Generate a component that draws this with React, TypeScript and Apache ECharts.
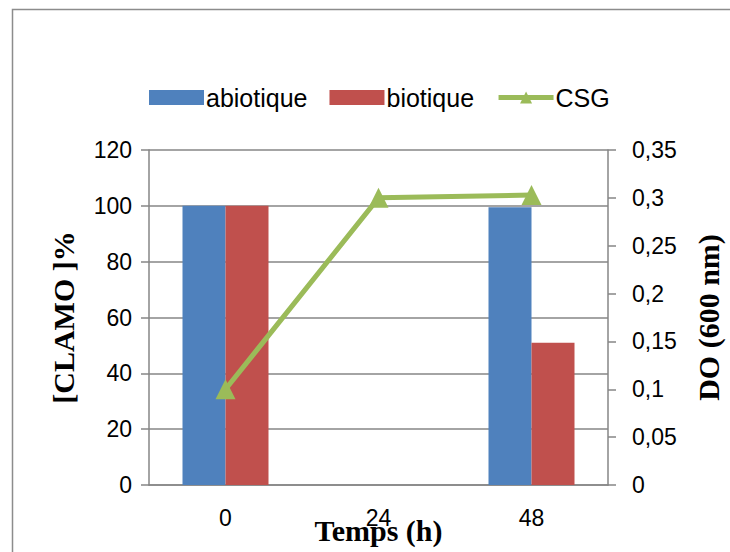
import React, { useEffect, useRef } from "react";
import * as echarts from "echarts";

// Sampling times (h)
const times = ["0", "24", "48"];
// Remaining CLAMO (%)
const abiotique = [100, null, 99.5];
const biotique = [100, null, 51];
// Optical density at 600 nm
const csg = [0.1, 0.3, 0.303];

const sansFont = "'Liberation Sans', Arial, sans-serif";
const serifFont = "'Liberation Serif', 'Times New Roman', serif";
const axisGrey = "#868686";

const nameStyle = {
  fontFamily: serifFont,
  fontWeight: "bold",
  fontSize: 30,
  color: "#000",
};

const tickLabelStyle = {
  fontFamily: sansFont,
  fontSize: 23,
  color: "#000",
};

export default function App() {
  const ref = useRef<HTMLDivElement>(null);

  useEffect(() => {
    if (!ref.current) return;
    const chart = echarts.init(ref.current, null, { renderer: "svg" });
    chart.setOption({
      animation: false,
      backgroundColor: "#ffffff",
      graphic: [
        {
          type: "rect",
          shape: { x: 12.5, y: 9.5, width: 740, height: 560 },
          style: { fill: "none", stroke: "#8c8c8c", lineWidth: 1.5 },
          silent: true,
        },
      ],
      legend: {
        top: 80,
        left: 144,
        itemWidth: 55,
        itemHeight: 15,
        itemGap: 22,
        lineStyle: { width: 5 },
        textStyle: {
          fontFamily: sansFont,
          fontSize: 25,
          color: "#000",
          padding: [0, 0, 0, -3],
        },
        data: [
          { name: "abiotique", icon: "rect" },
          { name: "biotique", icon: "rect" },
          { name: "CSG" },
        ],
      },
      grid: {
        left: 149,
        right: 122,
        top: 150,
        bottom: 67,
        containLabel: false,
        outerBoundsMode: "none",
      },
      xAxis: {
        type: "category",
        data: times,
        name: "Temps (h)",
        nameLocation: "middle",
        nameGap: 30,
        nameMoveOverlap: false,
        nameTextStyle: nameStyle,
        axisLine: { lineStyle: { color: axisGrey, width: 1.5 } },
        axisTick: { length: 8, lineStyle: { color: axisGrey, width: 1.5 } },
        axisLabel: { ...tickLabelStyle, margin: 21 },
      },
      yAxis: [
        {
          type: "value",
          min: 0,
          max: 120,
          interval: 20,
          name: "[CLAMO ]%",
          nameLocation: "middle",
          nameGap: 71,
          nameRotate: 90,
          nameMoveOverlap: false,
          nameTextStyle: nameStyle,
          axisLine: { show: true, lineStyle: { color: axisGrey, width: 1.5 } },
          axisTick: { show: true, length: 8, lineStyle: { color: axisGrey, width: 1.5 } },
          axisLabel: { ...tickLabelStyle, margin: 17 },
          splitLine: { show: true, lineStyle: { color: axisGrey, width: 1.5 } },
        },
        {
          type: "value",
          min: 0,
          max: 0.35,
          interval: 0.05,
          name: "DO (600 nm)",
          nameLocation: "middle",
          nameGap: 85,
          nameRotate: 90,
          nameMoveOverlap: false,
          nameTextStyle: nameStyle,
          axisLine: { show: true, lineStyle: { color: axisGrey, width: 1.5 } },
          axisTick: { show: true, length: 8, lineStyle: { color: axisGrey, width: 1.5 } },
          axisLabel: {
            ...tickLabelStyle,
            margin: 24,
            formatter: (v: number) => String(Math.round(v * 100) / 100).replace(".", ","),
          },
          splitLine: { show: false },
        },
      ],
      series: [
        {
          name: "abiotique",
          type: "bar",
          data: abiotique,
          barWidth: 43,
          barGap: "0%",
          itemStyle: { color: "#4F81BD" },
        },
        {
          name: "biotique",
          type: "bar",
          data: biotique,
          barWidth: 43,
          itemStyle: { color: "#C0504D" },
        },
        {
          name: "CSG",
          type: "line",
          yAxisIndex: 1,
          data: csg,
          symbol: "triangle",
          symbolSize: 20,
          lineStyle: { color: "#9BBB59", width: 5 },
          itemStyle: { color: "#9BBB59" },
        },
      ],
    });
    return () => chart.dispose();
  }, []);

  return (
    <div
      ref={ref}
      style={{ position: "fixed", left: 0, top: 0, width: 730, height: 552 }}
    />
  );
}
